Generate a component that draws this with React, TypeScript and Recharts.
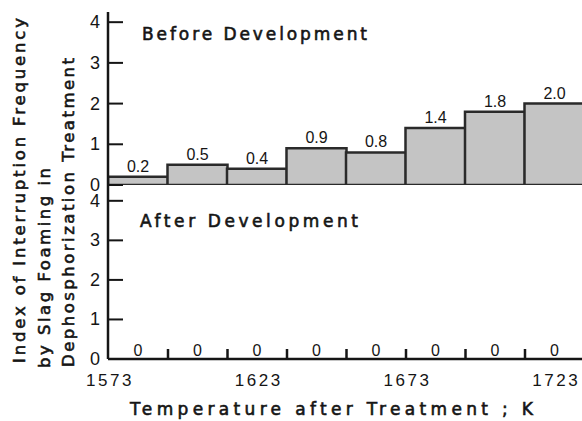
import React from 'react';
import { BarChart, Bar, XAxis, YAxis, LabelList } from 'recharts';

// bins are 20 K wide, given by their mid temperature
const BIN_MIDS = [1583, 1603, 1623, 1643, 1663, 1683, 1703, 1723];
const BEFORE = [0.2, 0.5, 0.4, 0.9, 0.8, 1.4, 1.8, 2.0];
const AFTER = [0, 0, 0, 0, 0, 0, 0, 0];
const X_LABEL_TICKS = [1573, 1623, 1673, 1723];
const Y_TICKS = [0, 1, 2, 3, 4];
const X_DOMAIN: [number, number] = [1573, 1733];

const INK = '#151515';
const BAR_FILL = '#c4c4c4';
const NUM_FONT = '"Liberation Sans", Arial, sans-serif';
const TEXT_FONT = '"DejaVu Sans", sans-serif';

const PLOT_LEFT = 108;
const BOTTOM_BASE = 359;

const beforeData = BIN_MIDS.map((m, i) => ({ mid: m, value: BEFORE[i] }));
const afterData = BIN_MIDS.map((m, i) => ({ mid: m, value: AFTER[i] }));

function YTick(props: any) {
  const { y, payload } = props;
  return (
    <g>
      <line x1={PLOT_LEFT} x2={PLOT_LEFT + 15} y1={y} y2={y} stroke={INK} strokeWidth={2} />
      <text x={PLOT_LEFT - 8} y={y} dy={6} textAnchor="end" fontFamily={NUM_FONT} fontSize={18} fill={INK}>
        {payload.value}
      </text>
    </g>
  );
}

function XTick(props: any) {
  const { x, payload } = props;
  return (
    <text x={x + 2} y={BOTTOM_BASE + 27} textAnchor="middle" fontFamily={NUM_FONT} fontSize={17} letterSpacing={2.5} fill={INK}>
      {payload.value}
    </text>
  );
}

// "0" over each bin plus the small bin-boundary tick at its right edge
function ZeroLabel(props: any) {
  const vb = props.viewBox ?? props;
  const x = vb.x ?? props.x;
  const y = vb.y ?? props.y;
  const w = vb.width ?? props.width;
  const h = vb.height ?? props.height;
  const base = Math.max(y, y + h);
  const last = props.index === AFTER.length - 1;
  return (
    <g>
      <text x={x + w / 2} y={base - 3} textAnchor="middle" fontFamily={NUM_FONT} fontSize={16} fill={INK}>
        {props.value}
      </text>
      {!last && <line x1={x + w} x2={x + w} y1={base} y2={base - 10} stroke={INK} strokeWidth={2.5} />}
    </g>
  );
}

const axisStroke = { stroke: INK, strokeWidth: 2.5 };

export default function App() {
  return (
    <div style={{ position: 'fixed', left: 0, top: 0, width: 582, height: 421, overflow: 'hidden', background: '#fff' }}>
      {/* after development */}
      <div style={{ position: 'absolute', left: 0, top: 0 }}>
        <BarChart width={620} height={421} data={afterData} barCategoryGap={0} margin={{ top: 185, right: 36, left: 8, bottom: 32 }}>
          <XAxis dataKey="mid" type="number" domain={X_DOMAIN} ticks={X_LABEL_TICKS} allowDataOverflow height={30} tickLine={false} axisLine={axisStroke} tick={<XTick />} interval={0} />
          <YAxis domain={[0, 4.4]} ticks={Y_TICKS} allowDataOverflow width={100} tickLine={false} axisLine={axisStroke} tick={<YTick />} />
          <YAxis yAxisId="r" orientation="right" domain={[0, 4.4]} width={0} tick={false} tickLine={false} axisLine={axisStroke} />
          <Bar dataKey="value" fill={BAR_FILL} stroke="none" minPointSize={1} isAnimationActive={false}>
            <LabelList dataKey="value" content={ZeroLabel} />
          </Bar>
        </BarChart>
      </div>
      {/* before development */}
      <div style={{ position: 'absolute', left: 0, top: 0, width: 620, height: 200 }}>
        <BarChart width={620} height={200} data={beforeData} barCategoryGap={0} margin={{ top: 12, right: 36, left: 8, bottom: 15 }}>
          <XAxis dataKey="mid" type="number" domain={X_DOMAIN} allowDataOverflow height={0} tick={false} tickLine={false} axisLine={axisStroke} />
          <XAxis xAxisId="top" orientation="top" type="number" domain={X_DOMAIN} allowDataOverflow height={0} tick={false} tickLine={false} axisLine={axisStroke} />
          <YAxis domain={[0, 4.25]} ticks={Y_TICKS} allowDataOverflow width={100} tickLine={false} axisLine={axisStroke} tick={<YTick />} />
          <YAxis yAxisId="r" orientation="right" domain={[0, 4.25]} width={0} tick={false} tickLine={false} axisLine={axisStroke} />
          <Bar dataKey="value" fill={BAR_FILL} stroke="#2a2a2a" strokeWidth={2.5} isAnimationActive={false}>
            <LabelList dataKey="value" position="top" offset={5} fontFamily={NUM_FONT} fontSize={16} fill={INK} formatter={(v: any) => Number(v).toFixed(1)} />
          </Bar>
        </BarChart>
      </div>
      {/* text overlay */}
      <svg width={582} height={421} style={{ position: 'absolute', left: 0, top: 0, pointerEvents: 'none' }}>
        <g fontFamily={TEXT_FONT} fill={INK} stroke={INK} strokeWidth={0.6}>
          <text x={142} y={40} fontSize={17} textLength={225} lengthAdjust="spacing">Before Development</text>
          <text x={140} y={227} fontSize={17} textLength={218} lengthAdjust="spacing">After Development</text>
          <text x={130} y={415} fontSize={17} textLength={403} lengthAdjust="spacing">Temperature after Treatment ; K</text>
          <text x={25} y={363} fontSize={16.5} transform="rotate(-90 25 363)" textLength={345} lengthAdjust="spacing">Index of Interruption Frequency</text>
          <text x={50} y={368} fontSize={16.5} transform="rotate(-90 50 368)" textLength={200} lengthAdjust="spacing">by Slag Foaming in</text>
          <text x={74} y={367} fontSize={16.5} transform="rotate(-90 74 367)" textLength={309} lengthAdjust="spacing">Dephosphorization Treatment</text>
        </g>
      </svg>
    </div>
  );
}
